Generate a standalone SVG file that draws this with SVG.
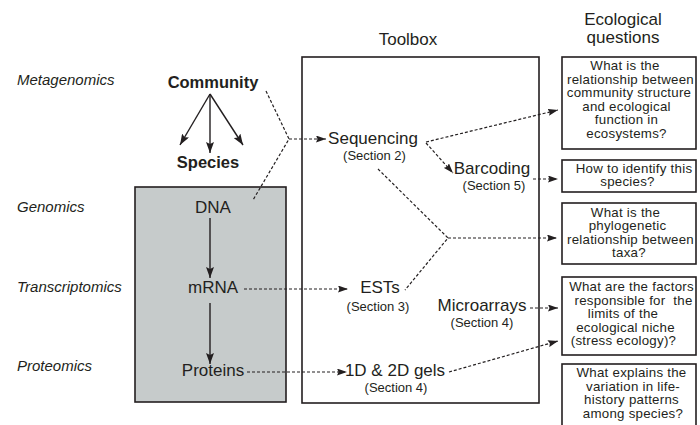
<svg xmlns="http://www.w3.org/2000/svg" width="700" height="425" viewBox="0 0 700 425">
<style>
text{font-family:"Liberation Sans",Arial,sans-serif;fill:#231f20}
.row{font-size:15px;font-style:italic}
.big{font-size:16.5px;font-weight:bold;text-anchor:middle}
.lab{font-size:17px;text-anchor:middle}
.sec{font-size:13px;text-anchor:middle}
.q{font-size:13.3px;letter-spacing:0.25px;text-anchor:middle}
.hd{font-size:17px;text-anchor:middle}
.box{fill:#fff;stroke:#231f20;stroke-width:1.6}
.dash{fill:none;stroke:#231f20;stroke-width:1.2;stroke-dasharray:3 2}
.solid{fill:none;stroke:#231f20;stroke-width:1.4}
</style>
<defs>
<marker id="ah" markerUnits="userSpaceOnUse" markerWidth="11" markerHeight="7" refX="10" refY="3.5" orient="auto">
<path d="M0,0 L10,3.5 L0,7 L1.5,3.5 z" fill="#231f20" stroke="none"/>
</marker>
<marker id="ahs" markerUnits="userSpaceOnUse" markerWidth="12" markerHeight="8" refX="11" refY="4" orient="auto">
<path d="M0,0 L11,4 L0,8 L2,4 z" fill="#231f20" stroke="none"/>
</marker>
</defs>
<rect width="700" height="425" fill="#fff"/>

<g id="row-labels">
<text class="row" x="17" y="85">Metagenomics</text>
<text class="row" x="17" y="212">Genomics</text>
<text class="row" x="17" y="292">Transcriptomics</text>
<text class="row" x="17" y="371">Proteomics</text>
</g>

<g id="headers">
<text class="hd" x="408" y="45">Toolbox</text>
<text class="hd"><tspan x="623" y="25">Ecological</tspan><tspan x="623" y="43">questions</tspan></text>
</g>

<g id="community"><text class="big" x="213" y="88">Community</text></g>
<g id="species"><text class="big" x="208" y="168">Species</text></g>

<g id="central-dogma">
<rect x="135" y="187" width="151" height="215" fill="#c6cbcb" stroke="#231f20" stroke-width="1.6"/>
</g>
<g id="dna"><text class="lab" x="213" y="213">DNA</text></g>
<g id="mrna"><text class="lab" x="213" y="293">mRNA</text></g>
<g id="proteins"><text class="lab" x="213" y="376">Proteins</text></g>

<g id="toolbox"><rect class="box" x="302" y="57" width="237" height="346"/></g>
<g id="sequencing"><text class="lab" x="373" y="144">Sequencing</text><text class="sec" x="374.5" y="160">(Section 2)</text></g>
<g id="barcoding"><text class="lab" x="492" y="174">Barcoding</text><text class="sec" x="494" y="190">(Section 5)</text></g>
<g id="ests"><text class="lab" x="380" y="293">ESTs</text><text class="sec" x="378" y="311">(Section 3)</text></g>
<g id="microarrays"><text class="lab" x="482" y="311">Microarrays</text><text class="sec" x="482" y="327">(Section 4)</text></g>
<g id="gels"><text class="lab" x="395" y="376">1D &amp; 2D gels</text><text class="sec" x="396" y="392">(Section 4)</text></g>

<g id="q1">
<rect class="box" x="562" y="57" width="134" height="92"/>
<text class="q"><tspan x="625" y="70">What is the</tspan><tspan x="630.5" y="83.5">relationship between</tspan><tspan x="629" y="97">community structure</tspan><tspan x="626.5" y="110.5">and ecological</tspan><tspan x="626.5" y="124">function in</tspan><tspan x="626.5" y="137.5">ecosystems?</tspan></text>
</g>
<g id="q2">
<rect class="box" x="562" y="160" width="134" height="32"/>
<text class="q"><tspan x="634" y="172.5">How to identify this</tspan><tspan x="627.5" y="186">species?</tspan></text>
</g>
<g id="q3">
<rect class="box" x="562" y="203" width="134" height="61"/>
<text class="q"><tspan x="625.5" y="216.5">What is the</tspan><tspan x="627.5" y="230">phylogenetic</tspan><tspan x="630.5" y="243.5">relationship between</tspan><tspan x="629" y="257">taxa?</tspan></text>
</g>
<g id="q4">
<rect class="box" x="562" y="277" width="134" height="78"/>
<text class="q" xml:space="preserve"><tspan x="631.5" y="291">What are the factors</tspan><tspan x="633.5" y="304.5">responsible for  the</tspan><tspan x="623" y="318">limits of the</tspan><tspan x="625.5" y="331.5">ecological niche</tspan><tspan x="623.5" y="345">(stress ecology)?</tspan></text>
</g>
<g id="q5">
<rect class="box" x="562" y="364" width="134" height="70"/>
<text class="q"><tspan x="631.5" y="377">What explains the</tspan><tspan x="633" y="390.5">variation in life-</tspan><tspan x="631.5" y="404">history patterns</tspan><tspan x="633" y="417.5">among species?</tspan></text>
</g>

<g id="connectors">
<line class="solid" x1="210" y1="94" x2="180" y2="145" marker-end="url(#ahs)"/>
<line class="solid" x1="210" y1="94" x2="210" y2="153" marker-end="url(#ahs)"/>
<line class="solid" x1="210" y1="94" x2="243" y2="145" marker-end="url(#ahs)"/>
<line class="solid" x1="210" y1="218" x2="210" y2="278" marker-end="url(#ahs)"/>
<line class="solid" x1="210" y1="303" x2="210" y2="364" marker-end="url(#ahs)"/>
<polyline class="dash" points="266,91 289,139 253,200"/>
<line class="dash" x1="289" y1="139" x2="326" y2="139" marker-end="url(#ah)"/>
<line class="dash" x1="426" y1="142" x2="558" y2="110" marker-end="url(#ah)"/>
<line class="dash" x1="426" y1="143" x2="453" y2="173" marker-end="url(#ah)"/>
<line class="dash" x1="533" y1="179" x2="558" y2="179" marker-end="url(#ah)"/>
<polyline class="dash" points="378,169 448,238 405,290"/>
<line class="dash" x1="448" y1="238" x2="557" y2="238" marker-end="url(#ah)"/>
<line class="dash" x1="244" y1="289" x2="348" y2="289" marker-end="url(#ah)"/>
<line class="dash" x1="247" y1="372" x2="347" y2="372" marker-end="url(#ah)"/>
<line class="dash" x1="530" y1="308" x2="558" y2="308" marker-end="url(#ah)"/>
<line class="dash" x1="449" y1="372" x2="558" y2="341" marker-end="url(#ah)"/>
</g>
</svg>
